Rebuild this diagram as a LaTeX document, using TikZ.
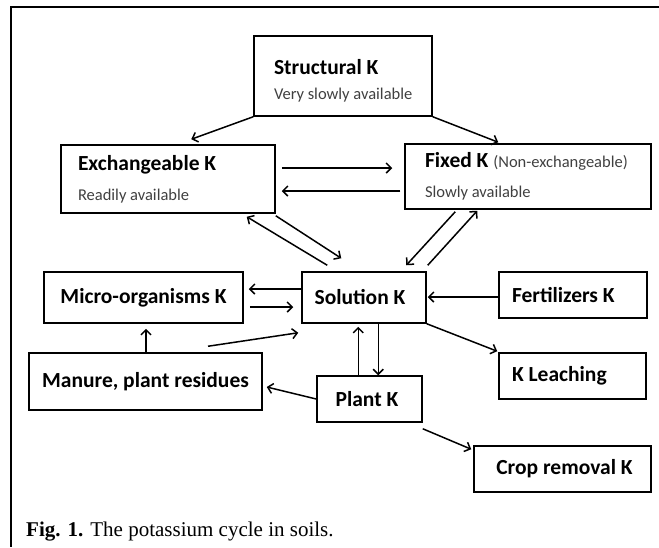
\documentclass[tikz,border=0pt]{standalone}
\usepackage{fontspec}
\setmainfont{Carlito}
\newfontfamily\capfont{Liberation Serif}
\usetikzlibrary{arrows.meta,calc}
\newcommand{\subf}{\mdseries\fontsize{16.5}{19}\selectfont\color{black!75}}
\tikzset{
  kbox/.style={draw, line width=1.5pt, rectangle, inner sep=0pt,
    font=\bfseries\fontsize{21.5}{24}\selectfont},
  flow/.style={line width=1.5pt, -{Straight Barb[length=5pt,width=10pt]}},
  frameline/.style={line width=1.3pt}
}
\begin{document}
\begin{tikzpicture}[x=1pt,y=-1pt]
\useasboundingbox (0,0) rectangle (659,547);
\draw[frameline] (659,7) -- (11,7) -- (11,547);

\node[kbox, minimum width=178, minimum height=80, text width=140, align=flush left] (struct) at (343,76)
  {\rule{0pt}{25pt}\hspace*{1pt}Structural K\\[1pt]\hspace*{1pt}{\subf Very slowly available}};
\node[kbox, minimum width=214, minimum height=68, text width=180, align=flush left] (exch) at (168,179)
  {Exchangeable K\\[6pt]{\subf Readily available}};
\node[kbox, minimum width=246, minimum height=65, text width=206, align=flush left] (fixed) at (528,176.5)
  {Fixed K {\subf (Non-exchangeable)}\\[6pt]{\subf Slowly available}};
\node[kbox, minimum width=199, minimum height=51] (micro) at (143.5,297.5) {Micro-organisms K};
\node[kbox, minimum width=124, minimum height=51] (sol) at (364,297.5) {\hspace*{-8pt}Solution K};
\node[kbox, minimum width=148, minimum height=46, text width=122, align=flush left] (fert) at (573,295) {Fertilizers K};
\node[kbox, minimum width=233, minimum height=57] (manure) at (145.5,381.5) {\raisebox{3pt}{Manure, plant residues}};
\node[kbox, minimum width=105, minimum height=46] (plant) at (369.5,399) {\hspace*{-5pt}Plant K};
\node[kbox, minimum width=147, minimum height=46, text width=121, align=flush left] (leach) at (572.5,376) {K Leaching};
\node[kbox, minimum width=177, minimum height=46] (crop) at (562.5,469) {\hspace*{4pt}Crop removal K};

\node[anchor=base west, inner sep=0pt, font=\capfont\fontsize{21}{24}\selectfont] (cap) at (26,536)
  {\textbf{Fig. 1.} The potassium cycle in soils.};

% connectors
\draw[flow] (struct.south west) -- ($(exch.north west)+(131,-5)$);
\draw[flow] (struct.south east) -- ($(fixed.north west)+(94,-1)$);
\draw[flow] ($(exch.east)+(6,-11)$) -- ($(fixed.west)+(-12,-8.5)$);
\draw[flow] ($(fixed.west)+(-4,14.5)$) -- ($(exch.east)+(6,12)$);
\draw[flow] ($(sol.north west)+(26,-6)$) -- ($(exch.south east)+(-29,3)$);
\draw[flow] ($(exch.south east)+(0,2)$) -- ($(sol.north west)+(40,-13)$);
\draw[flow] ($(fixed.south west)+(51,2)$) -- ($(sol.north west)+(105,-6)$);
\draw[flow] ($(sol.north east)+(1,-6)$) -- ($(fixed.south west)+(73,1)$);
\draw[flow] ($(sol.west)+(0,-8.5)$) -- ($(micro.east)+(5,-8.5)$);
\draw[flow] ($(micro.east)+(6,9.5)$) -- ($(sol.west)+(-8,9.5)$);
\draw[flow] ($(fert.west)+(0,2)$) -- ($(sol.east)+(1,-0.5)$);
\draw[flow] (sol.south east) -- ($(leach.north west)+(-1,-1)$);
\draw[flow] ($(manure.north)+(0.5,0)$) -- ($(micro.south)+(2.5,5)$);
\draw[flow] ($(manure.north)+(62.5,-6)$) -- ($(sol.south west)+(-3,9)$);
\draw[flow] ($(plant.north west)+(42,0)$) -- ($(sol.south west)+(57,3)$);
\draw[flow] ($(sol.south west)+(77,0)$) -- ($(plant.north west)+(62,0)$);
\draw[flow] (plant.west) -- ($(manure.east)+(4,5.5)$);
\draw[flow] ($(plant.south east)+(0,6)$) -- ($(crop.north west)+(-2,4)$);
\end{tikzpicture}
\end{document}
